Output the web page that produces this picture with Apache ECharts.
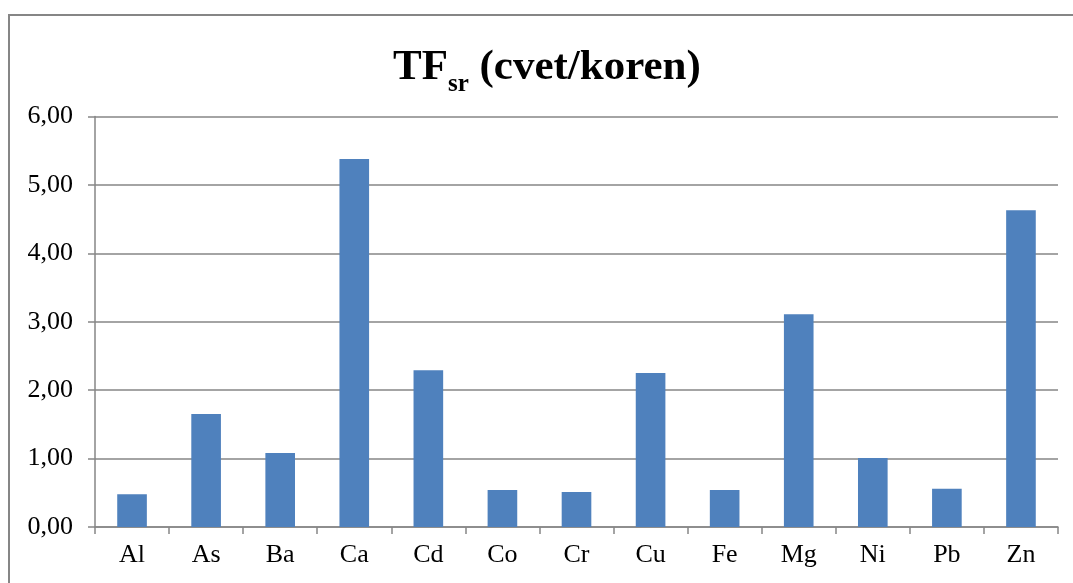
<!DOCTYPE html>
<html>
<head>
<meta charset="utf-8">
<script src="https://cdn.jsdelivr.net/npm/echarts@6/dist/echarts.min.js"></script>
<style>html,body{margin:0;padding:0;background:#fff;}#c{width:1073px;height:583px;}</style>
</head>
<body>
<div id="c"></div>
<script>
const categories = ['Al','As','Ba','Ca','Cd','Co','Cr','Cu','Fe','Mg','Ni','Pb','Zn'];
const values = [0.48, 1.65, 1.08, 5.38, 2.29, 0.54, 0.51, 2.25, 0.54, 3.11, 1.01, 0.56, 4.63];
const yMin = 0, yMax = 6, yStep = 1;

const chart = echarts.init(document.getElementById('c'));
const font = '"Liberation Serif", "Times New Roman", serif';
chart.setOption({
  animation: false,
  backgroundColor: '#fff',
  graphic: [{
    type: 'rect',
    shape: { x: 9, y: 15, width: 1200, height: 700 },
    style: { fill: 'none', stroke: '#868686', lineWidth: 2 },
    silent: true, z: -1
  }],
  title: {
    text: '{a|TF}{b|sr}{a| (cvet/koren)}',
    left: 388,
    top: 38,
    textStyle: {
      rich: {
        a: { fontFamily: font, fontWeight: 'bold', fontSize: 43, color: '#000', verticalAlign: 'bottom', lineHeight: 46 },
        b: { fontFamily: font, fontWeight: 'bold', fontSize: 25, color: '#000', verticalAlign: 'bottom', lineHeight: 46, padding: [0, 0, -8, 0] }
      }
    }
  },
  grid: { left: 95, right: 15, top: 116.5, bottom: 56, containLabel: false },
  xAxis: {
    type: 'category',
    data: categories,
    axisLine: { lineStyle: { color: '#868686', width: 1.5 } },
    axisTick: { show: true, alignWithLabel: false, length: 7, lineStyle: { color: '#868686', width: 1.5 } },
    axisLabel: { color: '#000', fontFamily: font, fontSize: 26, margin: 15 }
  },
  yAxis: {
    type: 'value',
    min: yMin, max: yMax, interval: yStep,
    axisLine: { show: true, lineStyle: { color: '#868686', width: 1.5 } },
    axisTick: { show: true, length: 7, lineStyle: { color: '#868686', width: 1.5 } },
    splitLine: { show: true, lineStyle: { color: '#868686', width: 1.5 } },
    axisLabel: {
      color: '#000', fontFamily: font, fontSize: 26, margin: 22,
      formatter: v => v.toFixed(2).replace('.', ',')
    }
  },
  series: [{
    type: 'bar',
    data: values,
    barCategoryGap: '60%',
    itemStyle: { color: '#4F81BD' }
  }]
});
</script>
</body>
</html>
